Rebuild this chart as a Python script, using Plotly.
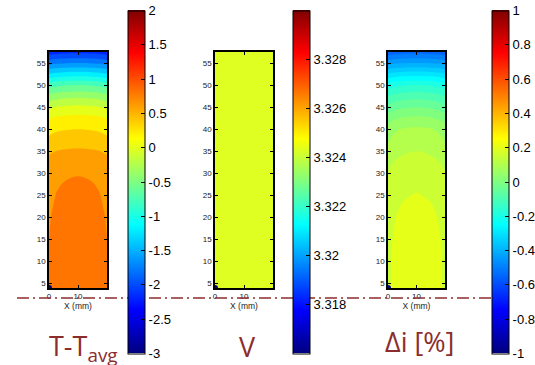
import plotly.graph_objects as go

# ---- data ----
x_mm = [0, 1, 2.5, 5, 10, 15, 17.5, 19, 20]
y_mm = [4, 10, 15, 20, 25, 28, 30, 35, 40, 42.5, 45, 47.5, 50, 52.5, 55, 57.5]

# T - T_avg field (rows follow y_mm, columns follow x_mm)
t_rows = [
    [0.72, 0.73, 0.75, 0.76, 0.77, 0.76, 0.75, 0.73, 0.72],
    [0.71, 0.725, 0.74, 0.76, 0.77, 0.76, 0.74, 0.725, 0.71],
    [0.70, 0.715, 0.73, 0.75, 0.76, 0.75, 0.73, 0.715, 0.70],
    [0.69, 0.705, 0.723, 0.738, 0.75, 0.738, 0.723, 0.705, 0.69],
    [0.67, 0.685, 0.703, 0.718, 0.73, 0.718, 0.703, 0.685, 0.67],
    [0.66, 0.672, 0.688, 0.70, 0.71, 0.70, 0.688, 0.672, 0.66],
    [0.645, 0.658, 0.672, 0.685, 0.695, 0.685, 0.672, 0.658, 0.645],
    [0.47, 0.485, 0.503, 0.518, 0.53, 0.518, 0.503, 0.485, 0.47],
    [0.23, 0.248, 0.269, 0.286, 0.30, 0.286, 0.269, 0.248, 0.23],
    [0.09, 0.11, 0.134, 0.154, 0.17, 0.154, 0.134, 0.11, 0.09],
    [-0.14, -0.118, -0.091, -0.068, -0.05, -0.068, -0.091, -0.118, -0.14],
    [-0.44, -0.418, -0.391, -0.368, -0.35, -0.368, -0.391, -0.418, -0.44],
    [-0.79, -0.768, -0.741, -0.718, -0.70, -0.718, -0.741, -0.768, -0.79],
    [-1.29, -1.268, -1.241, -1.218, -1.20, -1.218, -1.241, -1.268, -1.29],
    [-1.78, -1.76, -1.736, -1.716, -1.70, -1.716, -1.736, -1.76, -1.78],
    [-2.21, -2.195, -2.177, -2.162, -2.15, -2.162, -2.177, -2.195, -2.21],
]

# V field: uniform
v_value = 3.3243

# Delta i [%] field
di_rows = [
    [0.166, 0.175, 0.185, 0.194, 0.201, 0.194, 0.185, 0.175, 0.166],
    [0.165, 0.174, 0.184, 0.193, 0.200, 0.193, 0.184, 0.174, 0.165],
    [0.162, 0.171, 0.181, 0.190, 0.197, 0.190, 0.181, 0.171, 0.162],
    [0.155, 0.164, 0.174, 0.183, 0.190, 0.183, 0.174, 0.164, 0.155],
    [0.147, 0.155, 0.164, 0.171, 0.177, 0.171, 0.164, 0.155, 0.147],
    [0.138, 0.145, 0.155, 0.162, 0.168, 0.162, 0.155, 0.145, 0.138],
    [0.130, 0.138, 0.147, 0.154, 0.160, 0.154, 0.147, 0.138, 0.130],
    [0.090, 0.099, 0.109, 0.118, 0.125, 0.118, 0.109, 0.099, 0.090],
    [0.050, 0.059, 0.069, 0.078, 0.085, 0.078, 0.069, 0.059, 0.050],
    [0.000, 0.009, 0.019, 0.028, 0.035, 0.028, 0.019, 0.009, 0.000],
    [-0.060, -0.051, -0.041, -0.032, -0.025, -0.032, -0.041, -0.051, -0.060],
    [-0.125, -0.118, -0.109, -0.101, -0.095, -0.101, -0.109, -0.118, -0.125],
    [-0.205, -0.198, -0.189, -0.181, -0.175, -0.181, -0.189, -0.198, -0.205],
    [-0.320, -0.314, -0.306, -0.300, -0.295, -0.300, -0.306, -0.314, -0.320],
    [-0.445, -0.440, -0.434, -0.429, -0.425, -0.429, -0.434, -0.440, -0.445],
    [-0.560, -0.556, -0.552, -0.548, -0.545, -0.548, -0.552, -0.556, -0.560],
]

t_ticks = [-3, -2.5, -2, -1.5, -1, -0.5, 0, 0.5, 1, 1.5, 2]
t_ticktext = ["-3", "-2.5", "-2", "-1.5", "-1", "-0.5", "0", "0.5", "1", "1.5", "2"]
v_ticks = [3.318, 3.320, 3.322, 3.324, 3.326, 3.328]
v_ticktext = ["3.318", "3.32", "3.322", "3.324", "3.326", "3.328"]
di_ticks = [-1, -0.8, -0.6, -0.4, -0.2, 0, 0.2, 0.4, 0.6, 0.8, 1]
di_ticktext = ["-1", "-0.8", "-0.6", "-0.4", "-0.2", "0", "0.2", "0.4", "0.6", "0.8", "1"]
y_ticks = [5, 10, 15, 20, 25, 30, 35, 40, 45, 50, 55]
x_ticks = [0, 10]

titles = ["T-T<sub>avg</sub>", "V", "\u0394i [%]"]

# ---- style ----
W, H = 535, 365
jet = [[0.0, "rgb(0,0,128)"], [0.125, "rgb(0,0,255)"], [0.375, "rgb(0,255,255)"],
       [0.625, "rgb(255,255,0)"], [0.875, "rgb(255,0,0)"], [1.0, "rgb(128,0,0)"]]
dark_red = "rgb(140,45,45)"
font_fam = "Liberation Sans, Arial, sans-serif"
title_fam = "Open Sans, Liberation Sans, sans-serif"

fig = go.Figure()

# panel 1  (levels span the colour range: start - size/2 = -3, end + size/2 = 2)
fig.add_trace(go.Contour(
    x=x_mm, y=y_mm, z=t_rows, xaxis="x", yaxis="y",
    colorscale=jet, showscale=False, autocontour=False,
    contours=dict(start=-2.9, end=1.9, size=0.2, coloring="fill", showlines=False),
    line=dict(width=0), hoverinfo="skip"))
# panel 2
fig.add_trace(go.Heatmap(
    x=x_mm, y=y_mm, z=[[v_value] * len(x_mm) for _ in y_mm], xaxis="x2", yaxis="y2",
    colorscale=jet, zmin=3.316, zmax=3.330, showscale=False, hoverinfo="skip"))
# panel 3  (start - size/2 = -1, end + size/2 = 1)
fig.add_trace(go.Contour(
    x=x_mm, y=y_mm, z=di_rows, xaxis="x3", yaxis="y3",
    colorscale=jet, showscale=False, autocontour=False,
    contours=dict(start=-0.975, end=0.975, size=0.05, coloring="fill", showlines=False),
    line=dict(width=0), hoverinfo="skip"))

cb_specs = [
    ("x", "y", -3, 2, t_ticks, t_ticktext, 128),
    ("x2", "y2", 3.316, 3.330, v_ticks, v_ticktext, 293),
    ("x3", "y3", -1, 1, di_ticks, di_ticktext, 492),
]
for xa, ya, cmin, cmax, tv, tt, px in cb_specs:
    fig.add_trace(go.Scatter(
        x=[x_mm[0]], y=[y_mm[0]], xaxis=xa, yaxis=ya, mode="markers",
        marker=dict(size=0, color=[cmin], cmin=cmin, cmax=cmax, colorscale=jet,
                    showscale=True,
                    colorbar=dict(x=px / W, xanchor="left", y=1 - 182 / H, yanchor="middle",
                                  len=343, lenmode="pixels", thickness=17, thicknessmode="pixels",
                                  xpad=0, ypad=0, outlinecolor="black", outlinewidth=1,
                                  ticks="inside", ticklen=4, tickcolor="black",
                                  tickvals=tv, ticktext=tt, ticklabeloverflow="allow",
                                  tickfont=dict(size=13, color="black", family=font_fam))),
        hoverinfo="skip", showlegend=False))

plot_x = [(49, 107), (215, 273), (388, 445)]
plot_y = (52, 288)
axis_common = dict(showline=True, linecolor="black", linewidth=1.5, mirror="allticks",
                   ticks="inside", ticklen=3, tickcolor="black", showgrid=False, zeroline=False,
                   tickfont=dict(size=8, color="#222", family=font_fam))
layout = dict(width=W, height=H, margin=dict(l=0, r=0, t=0, b=0, autoexpand=False),
              paper_bgcolor="white", plot_bgcolor="white", showlegend=False)
for i, (x0, x1) in enumerate(plot_x):
    sfx = "" if i == 0 else str(i + 1)
    layout["xaxis" + sfx] = dict(axis_common, domain=[x0 / W, x1 / W], range=[0, 20],
                                 tickvals=x_ticks, anchor="y" + sfx,
                                 title=dict(text="X (mm)", standoff=1,
                                            font=dict(size=8.5, color="#222", family=font_fam)))
    layout["yaxis" + sfx] = dict(axis_common, domain=[1 - plot_y[1] / H, 1 - plot_y[0] / H],
                                 range=[4, 57.5], tickvals=y_ticks, anchor="x" + sfx)
fig.update_layout(**layout)

# dash-dot reference line
fig.add_shape(type="line", xref="paper", yref="paper", x0=17 / W, x1=495 / W,
              y0=1 - 298 / H, y1=1 - 298 / H, layer="above",
              line=dict(color=dark_red, width=1.5, dash="12px,4px,2px,4px"))

title_pos = [(47, 347, "left"), (247, 346, "center"), (419, 341, "center")]
for (tx, ty, anc), txt in zip(title_pos, titles):
    fig.add_annotation(x=tx / W, y=1 - ty / H, xref="paper", yref="paper", text=txt,
                       showarrow=False, xanchor=anc, yanchor="middle",
                       font=dict(size=27, color=dark_red, family=title_fam))

fig.write_html("out.html", config={"displayModeBar": False},
               post_script="document.body.style.margin='0';document.body.style.padding='0';")
